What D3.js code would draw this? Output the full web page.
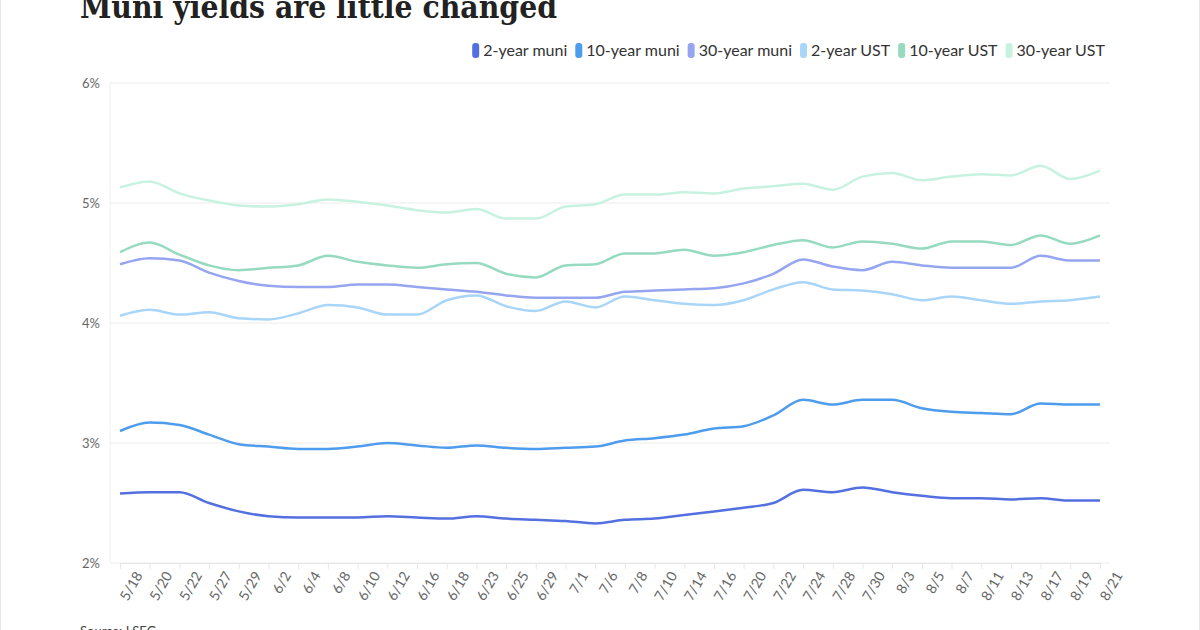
<!DOCTYPE html>
<html><head><meta charset="utf-8">
<script src="https://cdn.jsdelivr.net/npm/d3@7"></script>
<style>
body{margin:0;background:#fff;font-family:Lato,sans-serif;}
</style></head>
<body><svg id="chart" width="1200" height="630"></svg>
<script>
// Data
const dates = ["5/18","5/20","5/22","5/27","5/29","6/2","6/4","6/8","6/10","6/12","6/16","6/18","6/23","6/25","6/29","7/1","7/6","7/8","7/10","7/14","7/16","7/20","7/22","7/24","7/28","7/30","8/3","8/5","8/7","8/11","8/13","8/17","8/19","8/21"];
const muni2 = [2.58,2.59,2.59,2.50,2.43,2.39,2.38,2.38,2.38,2.39,2.38,2.37,2.39,2.37,2.36,2.35,2.33,2.36,2.37,2.40,2.43,2.46,2.50,2.61,2.59,2.63,2.59,2.56,2.54,2.54,2.53,2.54,2.52,2.52];
const muni10 = [3.10,3.17,3.15,3.07,2.99,2.97,2.95,2.95,2.97,3.00,2.98,2.96,2.98,2.96,2.95,2.96,2.97,3.02,3.04,3.07,3.12,3.14,3.23,3.36,3.32,3.36,3.36,3.29,3.26,3.25,3.24,3.33,3.32,3.32];
const muni30 = [4.49,4.54,4.52,4.42,4.35,4.31,4.30,4.30,4.32,4.32,4.30,4.28,4.26,4.23,4.21,4.21,4.21,4.26,4.27,4.28,4.29,4.33,4.41,4.53,4.47,4.44,4.51,4.48,4.46,4.46,4.46,4.56,4.52,4.52];
const ust2 = [4.06,4.11,4.07,4.09,4.04,4.03,4.08,4.15,4.13,4.07,4.07,4.19,4.23,4.14,4.10,4.18,4.13,4.22,4.19,4.16,4.15,4.19,4.28,4.34,4.28,4.27,4.24,4.19,4.22,4.19,4.16,4.18,4.19,4.22];
const ust10 = [4.59,4.67,4.57,4.48,4.44,4.46,4.48,4.56,4.51,4.48,4.46,4.49,4.50,4.41,4.38,4.48,4.49,4.58,4.58,4.61,4.56,4.59,4.65,4.69,4.63,4.68,4.66,4.62,4.68,4.68,4.65,4.73,4.66,4.73];
const ust30 = [5.13,5.18,5.08,5.02,4.98,4.97,4.99,5.03,5.01,4.98,4.94,4.92,4.95,4.87,4.87,4.97,4.99,5.07,5.07,5.09,5.08,5.12,5.14,5.16,5.11,5.22,5.25,5.19,5.22,5.24,5.23,5.31,5.20,5.27];
const seriesNames = ["2-year muni","10-year muni","30-year muni","2-year UST","10-year UST","30-year UST"];
const seriesValues = [muni2, muni10, muni30, ust2, ust10, ust30];
const colors = ["#5470e0","#4e9ced","#96a5f0","#a9d5f8","#96dbbf","#c8f2e0"];
const yTicks = [2,3,4,5,6];

const svg = d3.select("#chart");
svg.append("rect").attr("x",0.5).attr("y",-2).attr("width",1199).attr("height",640)
  .attr("fill","none").attr("stroke","#e6e6e6");

// Title (cut off at top like the reference)
svg.append("text").attr("x",80).attr("y",18)
  .attr("font-family","'DejaVu Serif',serif").attr("font-weight","bold")
  .attr("font-size",32).attr("fill","#222")
  .attr("textLength",477).attr("lengthAdjust","spacingAndGlyphs")
  .text("Muni yields are little changed");

const x = d3.scalePoint().domain(dates).range([120,1100]);
const y = d3.scaleLinear().domain([2,6]).range([563,83]);

// Grid
svg.append("g").selectAll("line").data(yTicks).join("line")
  .attr("x1",110).attr("x2",1110).attr("y1",d=>y(d)).attr("y2",d=>y(d))
  .attr("stroke","#ececec");
svg.append("line").attr("x1",110).attr("x2",110).attr("y1",83).attr("y2",563).attr("stroke","#f0f0f0");
svg.append("g").selectAll("text").data(yTicks).join("text")
  .attr("x",100).attr("y",d=>y(d)+5).attr("text-anchor","end")
  .attr("font-size",13).attr("fill","#666").text(d=>d+"%");

// X axis
const xg = svg.append("g").attr("transform","translate(0,563)")
  .call(d3.axisBottom(x).tickSize(6).tickPadding(6));
xg.select(".domain").attr("stroke","#e6e6e6");
xg.selectAll(".tick line").attr("stroke","#e6e6e6");
xg.selectAll(".tick text").attr("font-family","Lato,sans-serif").attr("font-size",14)
  .attr("fill","#666").attr("text-anchor","end")
  .attr("transform","translate(5,2) rotate(-60)").attr("dx","0").attr("dy","0.6em");

// Lines
const line = d3.line().x((d,i)=>x(dates[i])).y(d=>y(d)).curve(d3.curveMonotoneX);
svg.append("g").selectAll("path").data(seriesValues).join("path")
  .attr("d",line).attr("fill","none").attr("stroke",(d,i)=>colors[i])
  .attr("stroke-width",2.5).attr("stroke-linejoin","round");

// Legend, right-aligned
const leg = svg.append("g").attr("font-size",16).attr("fill","#333");
let lx = 1105;
for (let i = seriesNames.length-1; i>=0; i--) {
  const t = leg.append("text").attr("y",56).attr("text-anchor","end").attr("x",lx).text(seriesNames[i]).attr("fill","#333");
  const w = t.node().getComputedTextLength();
  leg.append("rect").attr("x",lx-w-11).attr("y",43).attr("width",7).attr("height",15).attr("rx",3)
    .attr("fill",colors[i]);
  lx = lx - w - 19;
}

svg.append("text").attr("x",80).attr("y",636).attr("font-size",13).attr("fill","#444").text("Source: LSEG");
</script></body></html>
